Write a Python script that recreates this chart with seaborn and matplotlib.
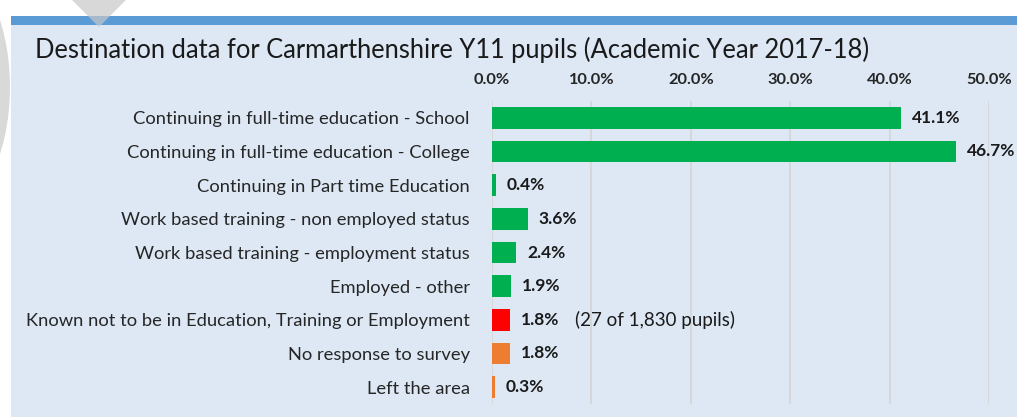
import numpy as np
import pandas as pd
import seaborn as sns
import matplotlib.pyplot as plt
from matplotlib.patches import Rectangle, Polygon, Ellipse

categories = ["Continuing in full-time education - School",
              "Continuing in full-time education - College",
              "Continuing in Part time Education",
              "Work based training - non employed status",
              "Work based training - employment status",
              "Employed - other",
              "Known not to be in Education, Training or Employment",
              "No response to survey",
              "Left the area"]
percent = [41.1, 46.7, 0.4, 3.6, 2.4, 1.9, 1.8, 1.8, 0.3]
bar_colors = ["#00b050"] * 6 + ["#ff0000", "#ed7d31", "#ed7d31"]
x_ticks = [0, 10, 20, 30, 40, 50]
note = "(27 of 1,830 pupils)"

df = pd.DataFrame({"Destination": categories, "Percent": percent})

sns.set_theme(style="white")
plt.rcParams['font.family'] = ['Lato', 'DejaVu Sans']

fig = plt.figure(figsize=(10.17, 4.17), dpi=100)
fig.patch.set_facecolor("white")

# panel background, top stripe and the grey shapes at the top left
fig.patches.append(Rectangle((11 / 1017, 0), 1, 392 / 417, transform=fig.transFigure,
                             facecolor="#dde8f4", edgecolor="none", zorder=-3))
fig.patches.append(Rectangle((11 / 1017, 392 / 417), 1, 9 / 417, transform=fig.transFigure,
                             facecolor="#5b9bd5", edgecolor="none", zorder=-2))
fig.patches.append(Ellipse((-60 / 1017, 330 / 417), 140 / 1017, 260 / 417, transform=fig.transFigure,
                           facecolor="#d9d9d9", edgecolor="none", zorder=-2.5))
fig.patches.append(Polygon([(72 / 1017, 1), (126 / 1017, 1), (99 / 1017, 390 / 417)],
                           closed=True, transform=fig.transFigure,
                           facecolor="#c8c8c8", edgecolor="none", alpha=0.7, zorder=-1))

ax = fig.add_axes([492 / 1017, 13 / 417, 497 / 1017, 303 / 417])
ax.set_zorder(5)
ax.set_facecolor("none")

sns.barplot(data=df, x="Percent", y="Destination", hue="Destination",
            palette=bar_colors, legend=False, width=0.65, orient="h",
            saturation=1, linewidth=0, ax=ax, zorder=3)

ax.set_xlim(0, 50)
ax.set_xticks(x_ticks)
ax.set_xticklabels([f"{t:.1f}%" for t in x_ticks], fontsize=11.8, fontweight="bold")
ax.xaxis.tick_top()
ax.tick_params(axis="x", length=0, pad=10)
ax.tick_params(axis="y", length=0, pad=16, labelsize=13.25)
ax.grid(axis="x", color="#d4d4d4", linewidth=1.2, zorder=0)
ax.set_axisbelow(True)
ax.set_xlabel("")
ax.set_ylabel("")
for s in ax.spines.values():
    s.set_visible(False)

for i, v in enumerate(percent):
    ax.annotate(f"{v:.1f}%", (v, i), xytext=(8, 0), textcoords="offset points",
                va="center", ha="left", fontsize=12.5, fontweight="bold", color="#1a1a1a")
ax.annotate(note, (percent[6], 6), xytext=(47, 0), textcoords="offset points",
            va="center", ha="left", fontsize=13.5, color="#1a1a1a")

fig.text(35 / 1017, 1 - 50 / 417, "Destination data for Carmarthenshire Y11 pupils (Academic Year 2017-18)",
         fontsize=18.4, va="center", ha="left", color="#1a1a1a")

fig.savefig("out.png", dpi=100)
